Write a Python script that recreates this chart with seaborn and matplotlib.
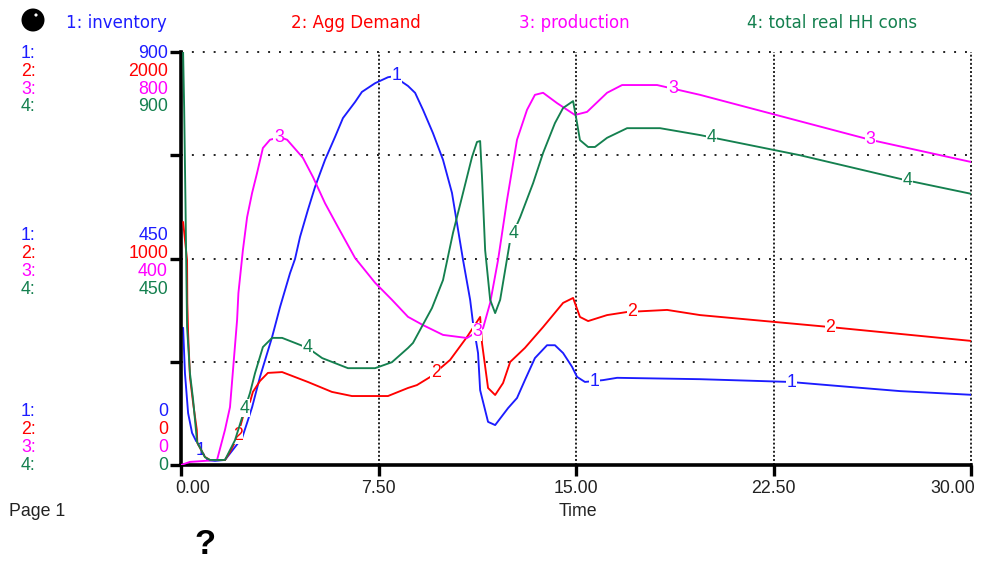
import numpy as np
import matplotlib
matplotlib.use("Agg")
import matplotlib.pyplot as plt
from matplotlib.patches import Circle
from matplotlib.transforms import ScaledTranslation, IdentityTransform
import seaborn as sns

# ---- data ----
inv_t = [0.08,0.15,0.27,0.42,0.61,0.91,1.29,1.67,2.32,2.51,2.70,3.00,3.46,3.76,4.14,4.33,4.52,4.82,5.09,5.47,5.85,6.15,6.61,6.87,7.37,7.86,8.17,8.39,8.62,8.89,9.19,9.57,9.95,10.29,10.48,10.71,10.98,11.09,11.28,11.36,11.66,11.93,12.42,12.76,13.06,13.44,13.90,14.20,14.51,14.85,15.04,15.34,16.03,16.56,19.71,23.13,25.41,27.31,30.0]
inventory = [299,200,113,70,48,11,9,11,59,92,126,192,279,344,418,449,497,556,606,665,715,756,791,813,832,845,848,835,826,811,774,723,665,593,527,447,360,309,244,163,94,87,124,146,185,233,261,261,244,214,192,181,185,190,187,181,170,161,153]

agg_t = [0.08,0.23,0.24,0.27,0.34,0.46,0.60,0.62,0.91,1.10,1.67,1.86,2.13,2.35,2.37,2.62,2.73,3.00,3.30,3.84,4.82,5.73,6.49,7.86,8.62,8.96,9.46,10.22,10.86,11.36,11.43,11.66,11.93,12.23,12.50,13.06,13.75,14.51,14.89,15.15,15.46,16.18,16.94,18.46,19.71,24.65,30.0]
agg_demand = [1177,993,785,639,426,300,170,107,39,24,24,63,131,232,300,305,354,407,446,450,402,354,334,334,373,387,426,509,620,717,591,373,339,397,499,567,668,785,809,717,697,726,741,751,726,668,601]

prod_t = [0.0,0.34,0.91,1.37,1.67,1.86,2.13,2.18,2.35,2.51,2.70,2.89,3.11,3.38,3.76,4.03,4.63,5.01,5.47,5.96,6.61,7.37,8.01,8.62,9.19,9.95,10.86,11.47,11.74,12.04,12.38,12.76,13.14,13.44,13.75,14.28,14.96,15.42,16.18,16.75,18.08,19.71,26.17,30.0]
production = [0,6,8,10,68,112,281,333,416,480,527,566,614,630,635,630,595,558,507,461,401,353,320,287,271,252,246,265,314,397,513,630,688,717,721,701,678,684,721,736,736,717,630,587]

cons_t = [0.08,0.12,0.17,0.23,0.34,0.46,0.61,0.91,1.10,1.67,2.05,2.35,2.62,2.81,3.11,3.46,3.84,4.82,5.36,6.34,7.37,8.01,8.62,8.81,9.53,9.95,10.33,10.71,11.05,11.24,11.36,11.43,11.55,11.74,11.93,12.12,12.50,12.88,13.37,13.75,14.20,14.51,14.89,15.04,15.15,15.46,15.72,16.18,16.94,18.19,19.71,23.51,27.50,30.0]
hh_cons = [900,778,571,301,200,142,50,17,11,11,54,109,157,200,257,277,277,255,233,211,211,224,255,266,342,403,506,593,671,704,706,628,468,360,331,360,490,540,614,680,745,778,793,745,708,693,693,713,734,734,719,675,621,591]

names = ["1: inventory", "2: Agg Demand", "3: production", "4: total real HH cons"]
top_labels = ["900", "2000", "800", "900"]
mid_labels = ["450", "1000", "400", "450"]
low_labels = ["0", "0", "0", "0"]
axis_max = [900, 2000, 800, 900]
x_ticks = [0, 7.5, 15, 22.5, 30]
x_ticklabels = ["0.00", "7.50", "15.00", "22.50", "30.00"]
label_times = [[0.75, 8.17, 15.69, 23.17], [2.16, 9.68, 17.13, 24.65],
               [3.72, 11.24, 18.68, 26.17], [2.43, 4.79, 12.61, 20.13, 27.6]]

# ---- style ----
sns.set_theme(style="white")
plt.rcParams["font.family"] = ["Liberation Sans", "DejaVu Sans"]
colors = ["#1c1cff", "#ff0000", "#ff00ff", "#14804f"]
FS = 12.8
W, H = 984, 567
fig = plt.figure(figsize=(W / 100, H / 100), dpi=100, facecolor="white")
L, R, T, B = 181, 971, 52, 465
ax = fig.add_axes([L / W, 1 - B / H, (R - L) / W, (B - T) / H])
ax.set_xlim(0, 30)
ax.set_facecolor("white")
axes = [ax, ax.twinx(), ax.twinx(), ax.twinx()]
series = [(inv_t, inventory), (agg_t, agg_demand), (prod_t, production), (cons_t, hh_cons)]

# grid
ax.set_xticks(x_ticks)
ax.set_xticklabels(x_ticklabels, fontsize=FS, color="#222222")
ax.set_yticks([0, 225, 450, 675, 900])
ax.set_yticklabels([])
ax.tick_params(axis="both", length=8, width=2.4, color="black", direction="out", bottom=True, left=True)
ax.tick_params(axis="x", pad=3)
labels = ax.get_xticklabels()
labels[0].set_horizontalalignment("left")
labels[0].set_transform(labels[0].get_transform() + ScaledTranslation(-6 / 100, 0, fig.dpi_scale_trans))
labels[-1].set_horizontalalignment("right")
labels[-1].set_transform(labels[-1].get_transform() + ScaledTranslation(4 / 100, 0, fig.dpi_scale_trans))
for v in x_ticks[1:]:
    ax.axvline(v, color="#222222", lw=1.4, ls=(0, (1, 1.1)), zorder=0.5, clip_on=False)
for v in [225, 450, 675, 900]:
    ax.axhline(v, color="#222222", lw=1.4, ls=(0, (1, 4.6)), zorder=0.5, clip_on=False)

# series
for a, (t, y), c, m in zip(axes, series, colors, axis_max):
    sns.lineplot(x=t, y=y, color=c, lw=1.35, ax=a, errorbar=None, legend=False)
    a.set_xlim(0, 30)
    a.set_ylim(0, m)
    a.set_xlabel("")
    a.set_ylabel("")
    a.patch.set_visible(False)
    if a is not ax:
        a.set_yticks([])
    for s in a.spines.values():
        s.set_visible(False)
for a, (t, y), c, lt, n in zip(axes, series, colors, label_times, "1234"):
    for tt in lt:
        a.text(tt, np.interp(tt, t, y), n, color=c, fontsize=FS, ha="center", va="center", zorder=6,
               bbox=dict(fc="white", ec="none", pad=0.4))

for side in ["left", "bottom"]:
    ax.spines[side].set_visible(True)
    ax.spines[side].set_linewidth(2.6)
    ax.spines[side].set_color("black")
    ax.spines[side].set_zorder(10)

def ftext(x, y, s, **kw):
    kw.setdefault("fontsize", FS)
    kw.setdefault("va", "center")
    fig.text(x / W, 1 - (y + 1.5) / H, s, **kw)

# legend header
for x, n, c in zip([66, 291, 519, 747], names, colors):
    ftext(x, 21, n, color=c, family=["DejaVu Sans"], fontsize=12)

# stacked scale labels
for rows, vals in [((52, 70, 88, 105), top_labels), ((234, 252, 270, 288), mid_labels), ((410, 428, 446, 464), low_labels)]:
    for i, (yy, v, c) in enumerate(zip(rows, vals, colors)):
        ftext(21, yy, f"{i + 1}:", color=c)
        ftext(168, yy, v, color=c, ha="right")

ftext(9, 510, "Page 1", color="#222222")
ftext(578, 510, "Time", color="#222222", ha="center")
ftext(205, 543, "?", color="black", fontsize=25, fontweight="bold", ha="center", family=["Liberation Sans"])

# ball icon
fig.add_artist(Circle((33, H - 20), 11.5, transform=IdentityTransform(), fc="black", ec="none"))
fig.add_artist(Circle((36, H - 15), 1.6, transform=IdentityTransform(), fc="white", ec="none"))

fig.savefig("out.png", dpi=100, facecolor="white")
